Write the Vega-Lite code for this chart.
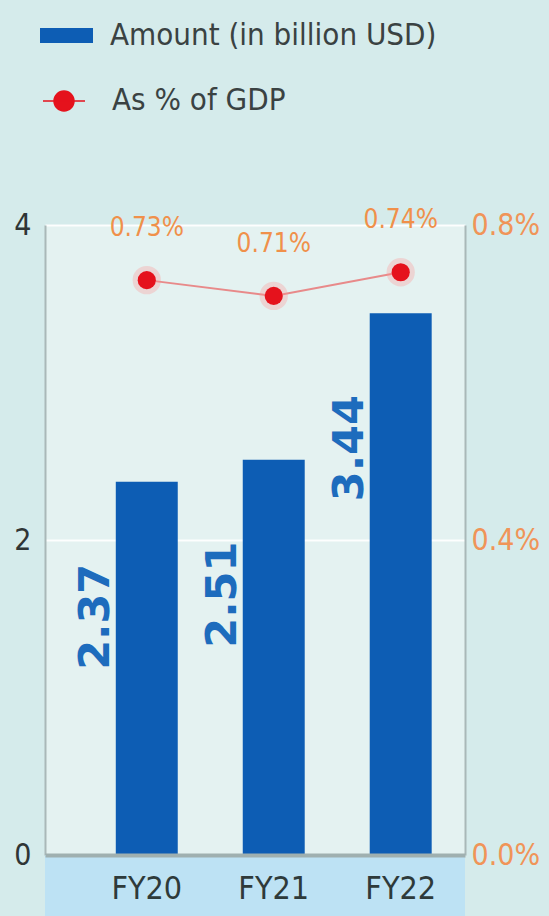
{
  "$schema": "https://vega.github.io/schema/vega-lite/v6.json",
  "width": 420,
  "height": 630,
  "autosize": "none",
  "padding": {"left": 45, "top": 225, "right": 84, "bottom": 61},
  "background": "#d5ebeb",
  "view": {"fill": "#e4f2f1", "stroke": null},
  "config": {
    "font": "DejaVu Sans Condensed, sans-serif",
    "legend": {"padding": 0}
  },
  "data": {
    "values": [
      {"year": "FY20", "amount": 2.37, "gdp": 0.0073, "gdp_label": "0.73%"},
      {"year": "FY21", "amount": 2.51, "gdp": 0.0071, "gdp_label": "0.71%"},
      {"year": "FY22", "amount": 3.44, "gdp": 0.0074, "gdp_label": "0.74%"}
    ]
  },
  "layer": [
    {
      "encoding": {
        "y": {
          "field": "amount",
          "type": "quantitative",
          "scale": {"domain": [0, 4], "nice": false},
          "axis": {
            "orient": "left",
            "values": [0, 2, 4],
            "grid": true,
            "gridColor": "#ffffff",
            "gridWidth": 2,
            "gridOpacity": 0.9,
            "domainColor": "#a9b8b8",
            "domainWidth": 2,
            "ticks": false,
            "labelFontSize": 30,
            "labelColor": "#2f3535",
            "labelPadding": 14,
            "title": null
          }
        }
      },
      "layer": [
        {
          "data": {"values": [{"lo": -0.39, "hi": 0}]},
          "mark": {"type": "rect", "color": "#bde2f4", "clip": false},
          "encoding": {
            "x": {"value": 0},
            "x2": {"value": "width"},
            "y": {"field": "lo", "type": "quantitative"},
            "y2": {"field": "hi"}
          }
        },
        {
          "mark": {"type": "bar", "color": "#0d5db4"},
          "encoding": {
            "x": {
              "field": "year",
              "type": "nominal",
              "scale": {"paddingInner": 0.512, "paddingOuter": 0.41, "align": 0.68},
              "axis": {
                "labelAngle": 0,
                "labelFontSize": 32,
                "labelColor": "#2e3a3a",
                "labelPadding": 18,
                "ticks": false,
                "domainColor": "#9fb0b0",
                "domainWidth": 4,
                "title": null,
                "zindex": 1
              }
            },
            "fill": {
              "datum": "Amount (in billion USD)",
              "scale": {"range": ["#0d5db4"]},
              "legend": {
                "orient": "none",
                "legendX": -5,
                "legendY": -216,
                "title": null,
                "symbolType": "M-1,-0.28H1V0.28H-1Z",
                "symbolSize": 2809,
                "symbolStrokeWidth": 0,
                "labelFontSize": 31,
                "labelLimit": 600,
                "labelColor": "#3a4242",
                "labelOffset": 17
              }
            }
          }
        },
        {
          "mark": {
            "type": "text",
            "angle": 270,
            "align": "right",
            "baseline": "bottom",
            "dx": -82,
            "dy": 2,
            "font": "DejaVu Sans",
            "fontWeight": "bold",
            "fontSize": 43,
            "color": "#1d6cbd"
          },
          "encoding": {
            "x": {"field": "year", "type": "nominal", "bandPosition": 0},
            "text": {"field": "amount", "type": "quantitative", "format": ".2f"}
          }
        }
      ]
    },
    {
      "encoding": {
        "x": {"field": "year", "type": "nominal"},
        "y": {
          "field": "gdp",
          "type": "quantitative",
          "scale": {"domain": [0, 0.008], "nice": false},
          "axis": {
            "orient": "right",
            "values": [0, 0.004, 0.008],
            "format": ".1%",
            "grid": false,
            "ticks": false,
            "domainColor": "#a9b8b8",
            "domainWidth": 2,
            "labelFontSize": 30,
            "labelColor": "#f09458",
            "labelPadding": 6,
            "title": null
          }
        }
      },
      "layer": [
        {
          "mark": {"type": "line", "color": "#e88a8a", "strokeWidth": 2}
        },
        {
          "mark": {"type": "point", "filled": true, "size": 800, "color": "#ff8f8f", "opacity": 0.3}
        },
        {
          "mark": {"type": "point", "filled": true, "size": 330, "fill": "#e5121c", "strokeWidth": 0, "opacity": 1},
          "encoding": {
            "stroke": {
              "datum": "As % of GDP",
              "scale": {"range": ["#e5121c"]},
              "legend": {
                "orient": "none",
                "legendX": -7,
                "legendY": -150,
                "title": null,
                "symbolType": "M-0.4,0A0.4,0.4 0 1,0 0.4,0A0.4,0.4 0 1,0 -0.4,0Z M-0.84,0H0.84",
                "symbolSize": 2500,
                "symbolFillColor": "#e5121c",
                "symbolStrokeWidth": 1.5,
                "labelFontSize": 31,
                "labelLimit": 600,
                "labelColor": "#3a4242",
                "labelOffset": 22
              }
            }
          }
        },
        {
          "mark": {"type": "text", "baseline": "middle", "dy": -52, "fontSize": 26, "color": "#f0904a"},
          "encoding": {
            "text": {"field": "gdp_label", "type": "nominal"}
          }
        }
      ]
    }
  ],
  "resolve": {"scale": {"y": "independent", "x": "shared"}}
}
